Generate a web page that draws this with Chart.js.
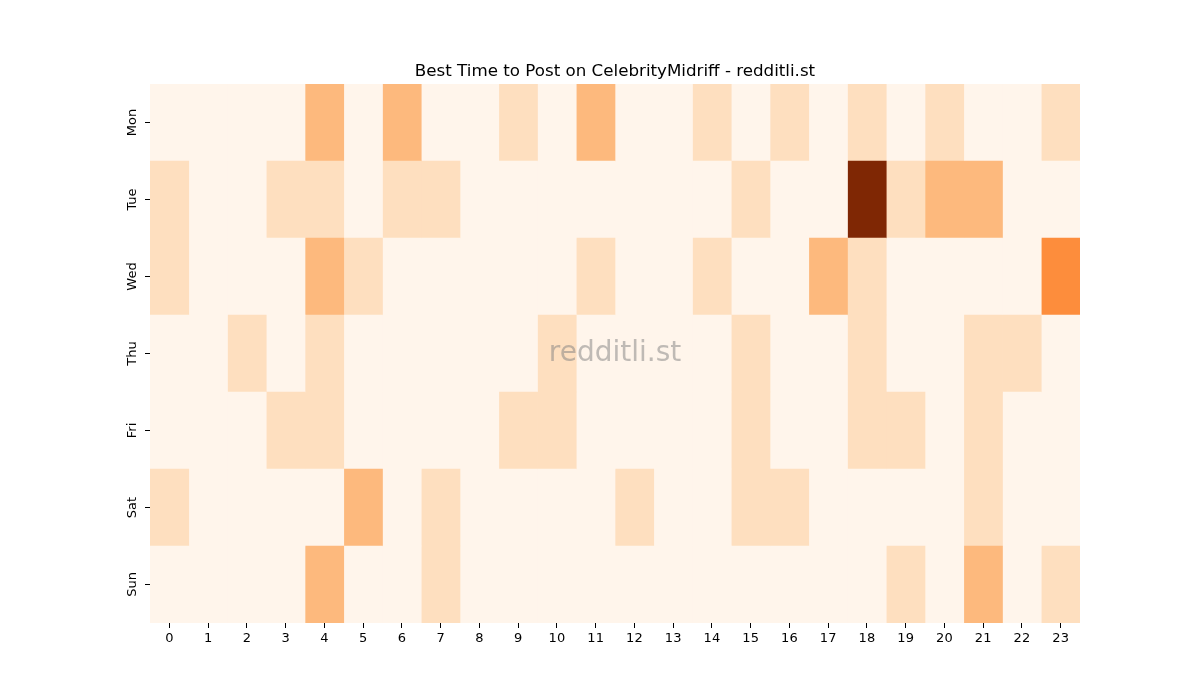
<!DOCTYPE html>
<html>
<head>
<meta charset="utf-8">
<script src="https://cdn.jsdelivr.net/npm/chart.js@4/dist/chart.umd.min.js"></script>
<style>
  html, body { margin: 0; padding: 0; background: #fff; }
  #wrap { width: 1200px; height: 700px; }
</style>
</head>
<body>
<div id="wrap"><canvas id="heat" width="1200" height="700"></canvas></div>
<script>
// data
const days = ["Mon", "Tue", "Wed", "Thu", "Fri", "Sat", "Sun"];
const hours = ["0","1","2","3","4","5","6","7","8","9","10","11","12","13","14","15","16","17","18","19","20","21","22","23"];
const mon = [0,0,0,0,2,0,2,0,0,1,0,2,0,0,1,0,1,0,1,0,1,0,0,1];
const tue = [1,0,0,1,1,0,1,1,0,0,0,0,0,0,0,1,0,0,6,1,2,2,0,0];
const wed = [1,0,0,0,2,1,0,0,0,0,0,1,0,0,1,0,0,2,1,0,0,0,0,3];
const thu = [0,0,1,0,1,0,0,0,0,0,1,0,0,0,0,1,0,0,1,0,0,1,1,0];
const fri = [0,0,0,1,1,0,0,0,0,1,1,0,0,0,0,1,0,0,1,1,0,1,0,0];
const sat = [1,0,0,0,0,2,0,1,0,0,0,0,1,0,0,1,1,0,0,0,0,1,0,0];
const sun = [0,0,0,0,2,0,0,1,0,0,0,0,0,0,0,0,0,0,0,1,0,2,0,1];
const counts = [mon, tue, wed, thu, fri, sat, sun];

// matplotlib "Oranges"
const oranges = ["#fff5eb","#fee6ce","#fdd0a2","#fdae6b","#fd8d3c","#f16913","#d94801","#a63603","#7f2704"];
const vmax = Math.max(...counts.flat());

function hexToRgb(h) {
  return [parseInt(h.slice(1,3),16), parseInt(h.slice(3,5),16), parseInt(h.slice(5,7),16)];
}
function colorFor(v) {
  const f = Math.min(1, Math.max(0, v / vmax)) * (oranges.length - 1);
  const i = Math.min(oranges.length - 2, Math.floor(f));
  const t = f - i;
  const a = hexToRgb(oranges[i]), b = hexToRgb(oranges[i + 1]);
  const c = a.map((x, k) => Math.round(x + (b[k] - x) * t));
  return `rgb(${c[0]},${c[1]},${c[2]})`;
}

// one stacked dataset per hour, one unit wide
const datasets = hours.map((h, hi) => ({
  label: h,
  data: days.map(() => 1),
  backgroundColor: days.map((d, di) => colorFor(counts[di][hi])),
  borderWidth: 0,
  barPercentage: 1,
  categoryPercentage: 1,
}));

// title, rotated day labels and watermark
const decor = {
  id: "decor",
  afterDraw(chart) {
    const { ctx, chartArea } = chart;
    const yScale = chart.scales.y;
    ctx.save();
    ctx.fillStyle = "#000";
    ctx.font = "16.7px 'DejaVu Sans'";
    ctx.textAlign = "center";
    ctx.textBaseline = "alphabetic";
    ctx.fillText("Best Time to Post on CelebrityMidriff - redditli.st", (chartArea.left + chartArea.right) / 2, 76);

    ctx.font = "13px 'DejaVu Sans'";
    ctx.textBaseline = "middle";
    days.forEach((d, i) => {
      const y = yScale.getPixelForValue(i);
      ctx.save();
      ctx.translate(chartArea.left - 17, y);
      ctx.rotate(-Math.PI / 2);
      ctx.fillText(d, 0, 0);
      ctx.restore();
    });

    ctx.font = "28px 'DejaVu Sans'";
    ctx.fillStyle = "rgba(128,128,128,0.5)";
    ctx.fillText("redditli.st", (chartArea.left + chartArea.right) / 2, (chartArea.top + chartArea.bottom) / 2);
    ctx.restore();
  },
};

new Chart(document.getElementById("heat"), {
  type: "bar",
  data: { labels: days, datasets: datasets },
  options: {
    indexAxis: "y",
    responsive: false,
    animation: false,
    layout: { padding: { left: 130, right: 120, top: 84, bottom: 47 } },
    plugins: {
      legend: { display: false },
      tooltip: { enabled: false },
      title: { display: false },
    },
    scales: {
      x: {
        type: "linear",
        stacked: true,
        min: 0,
        max: 24,
        afterBuildTicks(scale) {
          scale.ticks = hours.map((h, i) => ({ value: i + 0.5 }));
        },
        afterFit(scale) { scale.height = 30; },
        ticks: {
          autoSkip: false,
          maxRotation: 0,
          padding: 3,
          color: "#000",
          font: { family: "DejaVu Sans", size: 13 },
          callback: (v) => String(Math.round(v - 0.5)),
        },
        grid: { drawOnChartArea: false, tickLength: 5, tickColor: "#000", tickWidth: 1 },
        border: { display: false },
      },
      y: {
        stacked: true,
        afterFit(scale) { scale.width = 20; },
        ticks: { color: "rgba(0,0,0,0)", font: { size: 13 } },
        grid: { offset: false, drawOnChartArea: false, tickLength: 5, tickColor: "#000", tickWidth: 1 },
        border: { display: false },
      },
    },
  },
  plugins: [decor],
});
</script>
</body>
</html>
